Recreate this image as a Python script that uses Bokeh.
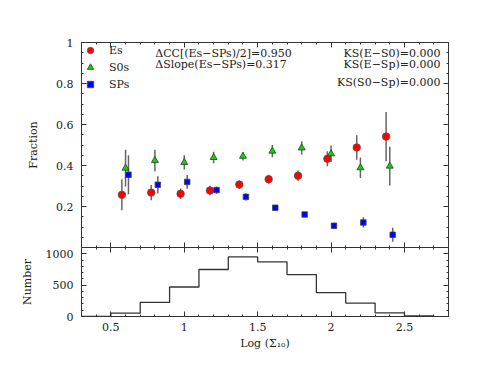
from bokeh.plotting import figure
from bokeh.models import (LinearAxis, FixedTicker, CustomJSTickFormatter, Label,
                          Legend, LegendItem, Range1d, ColumnDataSource, CustomLabelingPolicy)
from bokeh.layouts import column
from bokeh.transform import dodge
from bokeh.embed import file_html
from bokeh.resources import INLINE

# ---------------- data ----------------
bin_centers = [0.6, 0.8, 1.0, 1.2, 1.4, 1.6, 1.8, 2.0, 2.2, 2.4]
es_frac = [0.257, 0.268, 0.262, 0.278, 0.307, 0.333, 0.350, 0.433, 0.488, 0.541]
es_err = [0.075, 0.037, 0.026, 0.023, 0.020, 0.022, 0.026, 0.037, 0.060, 0.120]
s0_frac = [0.387, 0.424, 0.415, 0.439, 0.445, 0.470, 0.486, 0.457, 0.389, 0.397]
s0_err = [0.090, 0.053, 0.035, 0.028, 0.020, 0.030, 0.032, 0.040, 0.050, 0.095]
sp_frac = [0.355, 0.306, 0.320, 0.280, 0.247, 0.194, 0.161, 0.106, 0.122, 0.062]
sp_err = [0.095, 0.042, 0.034, 0.018, 0.018, 0.012, 0.012, 0.015, 0.025, 0.034]

hist_edges = [0.5, 0.7, 0.9, 1.1, 1.3, 1.5, 1.7, 1.9, 2.1, 2.3, 2.5, 2.7]
hist_counts = [53, 225, 470, 749, 950, 872, 668, 380, 214, 59, 10]

x_ticks = [0.5, 1.0, 1.5, 2.0, 2.5]
frac_ticks = [0.2, 0.4, 0.6, 0.8, 1.0]
num_ticks = [0, 500, 1000]

legend_labels = ["Es", "S0s", "SPs"]
stats_left = ["\u0394CC[(Es\u2212SPs)/2]=0.950", "\u0394Slope(Es\u2212SPs)=0.317"]
stats_right = ["KS(E\u2212S0)=0.000", "KS(E\u2212Sp)=0.000", "KS(S0\u2212Sp)=0.000"]

FONT = "DejaVu Serif"
FS = "11px"
AX = "#333333"
ERR = "#666666"

XR = (0.3, 2.8)
x_minor = [round(0.3 + 0.1 * i, 2) for i in range(26)]
fr_minor = [round(0.05 * i, 2) for i in range(21)]
num_minor = [100 * i for i in range(12)]

fmt = CustomJSTickFormatter(code="return tick.toString()")
no_labels = CustomLabelingPolicy(code="return new indices.constructor(indices.size)")


def style_axis(ax, ticks, minor, labels=True):
    ax.ticker = FixedTicker(ticks=ticks, minor_ticks=minor)
    ax.major_tick_in = 5
    ax.major_tick_out = 0
    ax.minor_tick_in = 2
    ax.minor_tick_out = 0
    ax.axis_line_color = AX
    ax.major_tick_line_color = AX
    ax.minor_tick_line_color = AX
    ax.axis_line_width = 1
    ax.major_label_text_font = FONT
    ax.major_label_text_font_size = FS if labels else "0px"
    ax.major_label_text_color = "#222222"
    ax.major_label_standoff = 8 if labels else 0
    if not labels:
        ax.major_label_policy = no_labels
    ax.formatter = fmt
    ax.axis_label_text_font = FONT
    ax.axis_label_text_font_size = FS
    ax.axis_label_text_font_style = "normal"
    ax.axis_label_text_color = "#222222"


# ---------------- top panel ----------------
top = figure(width=488, height=247, x_range=Range1d(*XR), y_range=Range1d(0, 1),
             min_border_left=81, min_border_right=40, min_border_top=42, min_border_bottom=0,
             output_backend="svg", toolbar_location=None, x_axis_location=None,
             y_axis_location=None)
top.grid.visible = False
top.outline_line_color = None

ax_l = LinearAxis(axis_label="Fraction")
style_axis(ax_l, frac_ticks, fr_minor)
ax_l.axis_label_standoff = 13
top.add_layout(ax_l, "left")
ax_r = LinearAxis()
style_axis(ax_r, frac_ticks, fr_minor, labels=False)
top.add_layout(ax_r, "right")
ax_t = LinearAxis()
style_axis(ax_t, x_ticks, x_minor, labels=False)
top.add_layout(ax_t, "above")
ax_b = LinearAxis()
style_axis(ax_b, x_ticks, x_minor, labels=False)
top.add_layout(ax_b, "below")

src = ColumnDataSource(dict(
    x=bin_centers,
    es=es_frac, es_lo=[v - e for v, e in zip(es_frac, es_err)], es_hi=[v + e for v, e in zip(es_frac, es_err)],
    s0=s0_frac, s0_lo=[v - e for v, e in zip(s0_frac, s0_err)], s0_hi=[v + e for v, e in zip(s0_frac, s0_err)],
    sp=sp_frac, sp_lo=[v - e for v, e in zip(sp_frac, sp_err)], sp_hi=[v + e for v, e in zip(sp_frac, sp_err)],
))

x_es = dodge("x", -0.025, range=top.x_range)
x_s0 = dodge("x", 0.0, range=top.x_range)
x_sp = dodge("x", 0.02, range=top.x_range)

for xx, lo, hi in [(x_es, "es_lo", "es_hi"), (x_s0, "s0_lo", "s0_hi"), (x_sp, "sp_lo", "sp_hi")]:
    top.segment(x0=xx, y0=lo, x1=xx, y1=hi, source=src, line_color=ERR, line_width=1.5)

r_es = top.scatter(x=x_es, y="es", source=src, marker="circle", size=7.5,
                   fill_color="#ff0000", line_color="#555555", line_width=0.8)
r_s0 = top.scatter(x=x_s0, y="s0", source=src, marker="triangle", size=7,
                   fill_color="#00dd00", line_color="#333333", line_width=0.8)
r_sp = top.scatter(x=x_sp, y="sp", source=src, marker="square", size=5.5,
                   fill_color="#0000ff", line_color="#444444", line_width=0.8)

legend = Legend(items=[LegendItem(label=legend_labels[0], renderers=[r_es]),
                       LegendItem(label=legend_labels[1], renderers=[r_s0]),
                       LegendItem(label=legend_labels[2], renderers=[r_sp])],
                location="top_left", margin=0, padding=6, spacing=1,
                glyph_width=18, glyph_height=16, label_height=16, label_standoff=10,
                label_text_font=FONT, label_text_font_size=FS, label_text_color="#222222",
                border_line_color=None, background_fill_alpha=0)
top.add_layout(legend, "center")

row_y = [0.946, 0.893, 0.805]
for i, t in enumerate(stats_left):
    top.add_layout(Label(x=0.802, y=row_y[i], text=t, text_font=FONT, text_font_size=FS,
                         text_baseline="middle", text_align="left", text_color="#222222"))
for i, t in enumerate(stats_right):
    top.add_layout(Label(x=2.745, y=row_y[i], text=t, text_font=FONT, text_font_size=FS,
                         text_baseline="middle", text_align="right", text_color="#222222"))

# ---------------- bottom panel ----------------
bot = figure(width=488, height=125, x_range=top.x_range, y_range=Range1d(0, 1100),
             min_border_left=81, min_border_right=40, min_border_top=0, min_border_bottom=56,
             output_backend="svg", toolbar_location=None, x_axis_location=None,
             y_axis_location=None)
bot.grid.visible = False
bot.outline_line_color = None

bl = LinearAxis(axis_label="Number")
style_axis(bl, num_ticks, num_minor)
bl.axis_label_standoff = 9
bot.add_layout(bl, "left")
br = LinearAxis()
style_axis(br, num_ticks, num_minor, labels=False)
bot.add_layout(br, "right")
bt = LinearAxis()
style_axis(bt, x_ticks, x_minor, labels=False)
bot.add_layout(bt, "above")
bb = LinearAxis(axis_label="Log (\u03a3\u2081\u2080)")
style_axis(bb, x_ticks, x_minor)
bb.major_label_standoff = 6
bb.axis_label_standoff = 3
bot.add_layout(bb, "below")

step_x = [XR[0]] + hist_edges
step_y = [0] + hist_counts + [0]
bot.step(x=step_x, y=step_y, mode="after", line_color="#333333", line_width=1.3)

layout = column(top, bot, spacing=0)
open("out.html", "w").write(file_html(layout, INLINE))
